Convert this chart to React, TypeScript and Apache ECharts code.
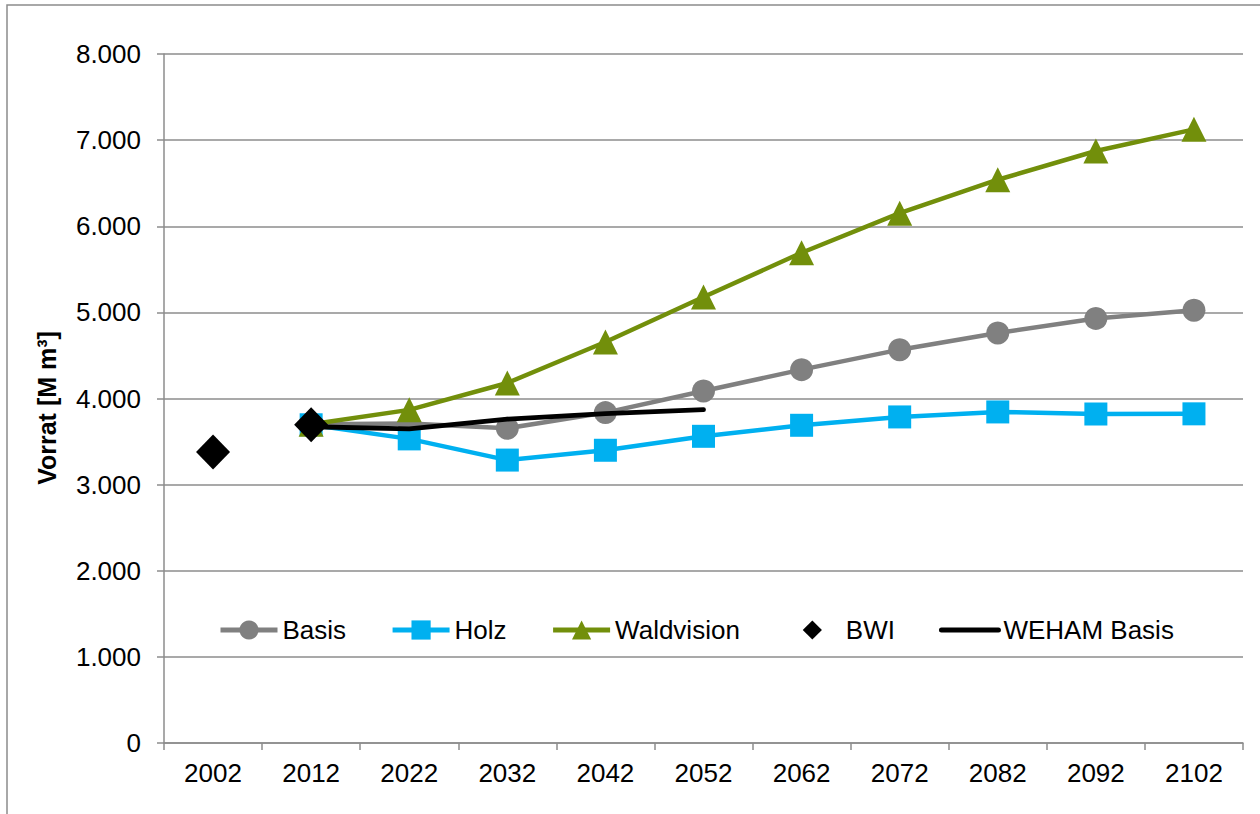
import React, { useEffect, useRef } from "react";
import * as echarts from "echarts";

const years = ["2002", "2012", "2022", "2032", "2042", "2052", "2062", "2072", "2082", "2092", "2102"];
const basis = [null, 3700, 3710, 3655, 3836, 4087, 4335, 4567, 4760, 4930, 5025];
const holz = [null, 3695, 3531, 3285, 3399, 3561, 3689, 3786, 3844, 3820, 3822];
const waldvision = [null, 3700, 3868, 4180, 4656, 5178, 5692, 6152, 6540, 6874, 7125];
const bwi = [3380, 3695, null, null, null, null, null, null, null, null, null];
const wehamBasis = [null, 3672, 3648, 3760, 3824, 3871, null, null, null, null, null];
const yTicks = { min: 0, max: 8000, interval: 1000 };

const FONT = "'Liberation Sans', Arial, sans-serif";

export default function App() {
  const ref = useRef<HTMLDivElement>(null);
  useEffect(() => {
    if (!ref.current) return;
    const chart = echarts.init(ref.current, undefined, { renderer: "svg" });
    chart.setOption({
      animation: false,
      backgroundColor: "#ffffff",
      textStyle: { fontFamily: FONT },
      grid: { left: 164, right: 17, top: 54, bottom: 71, containLabel: false },
      graphic: [
        {
          type: "rect",
          shape: { x: 7, y: 5, width: 1400, height: 1000 },
          style: { fill: "none", stroke: "#8c8c8c", lineWidth: 1.5 },
          silent: true,
        },
        {
          type: "text",
          x: 47,
          y: 408,
          rotation: Math.PI / 2,
          style: {
            text: "Vorrat [M m³]",
            font: `bold 25px ${FONT}`,
            fill: "#000",
            align: "center",
            verticalAlign: "middle",
          },
        },
      ],
      legend: {
        left: 213,
        top: 612,
        itemWidth: 57,
        itemHeight: 24,
        itemGap: 44,
        lineStyle: { width: 5 },
        textStyle: { fontSize: 26, color: "#000", fontFamily: FONT },
        data: [
          { name: "Basis", lineStyle: { width: 5 } },
          { name: "Holz", lineStyle: { width: 5 } },
          { name: "Waldvision", lineStyle: { width: 5 } },
          { name: "BWI", lineStyle: { width: 0, opacity: 0 } },
          { name: "WEHAM Basis", lineStyle: { width: 5 } },
        ],
      },
      xAxis: {
        type: "category",
        data: years,
        boundaryGap: true,
        axisLine: { lineStyle: { color: "#8c8c8c", width: 1.5 } },
        axisTick: { show: true, length: 7, lineStyle: { color: "#8c8c8c", width: 1.5 } },
        axisLabel: { fontSize: 26, color: "#000", margin: 17, fontFamily: FONT },
      },
      yAxis: {
        type: "value",
        min: yTicks.min,
        max: yTicks.max,
        interval: yTicks.interval,
        axisLine: { show: true, lineStyle: { color: "#8c8c8c", width: 1.5 } },
        axisTick: { show: true, length: 7, lineStyle: { color: "#8c8c8c", width: 1.5 } },
        splitLine: { show: true, lineStyle: { color: "#8c8c8c", width: 1.5 } },
        axisLabel: {
          fontSize: 26,
          color: "#000",
          margin: 23,
          fontFamily: FONT,
          formatter: (v: number) => (v === 0 ? "0" : `${v / 1000}.000`),
        },
      },
      series: [
        {
          name: "Basis",
          type: "line",
          data: basis,
          symbol: "circle",
          symbolSize: 23,
          lineStyle: { color: "#808080", width: 4.5 },
          itemStyle: { color: "#808080" },
          z: 2,
        },
        {
          name: "Holz",
          type: "line",
          data: holz,
          symbol: "rect",
          symbolSize: 23,
          lineStyle: { color: "#00B0F0", width: 4.5 },
          itemStyle: { color: "#00B0F0" },
          z: 3,
        },
        {
          name: "Waldvision",
          type: "line",
          data: waldvision,
          symbol: "triangle",
          symbolSize: 25,
          lineStyle: { color: "#728F0B", width: 4.5 },
          itemStyle: { color: "#728F0B" },
          z: 4,
        },
        {
          name: "BWI",
          type: "line",
          data: bwi,
          symbol: "diamond",
          symbolSize: [34, 35],
          lineStyle: { width: 0, opacity: 0 },
          itemStyle: { color: "#000000" },
          z: 5,
        },
        {
          name: "WEHAM Basis",
          type: "line",
          data: wehamBasis,
          symbol: "none",
          showSymbol: false,
          lineStyle: { color: "#000000", width: 4.8, cap: "round" },
          itemStyle: { color: "#000000", opacity: 0 },
          z: 6,
        },
      ],
    });
    return () => chart.dispose();
  }, []);
  return (
    <div
      ref={ref}
      style={{ position: "absolute", left: 0, top: 0, width: 1260, height: 814 }}
    />
  );
}
